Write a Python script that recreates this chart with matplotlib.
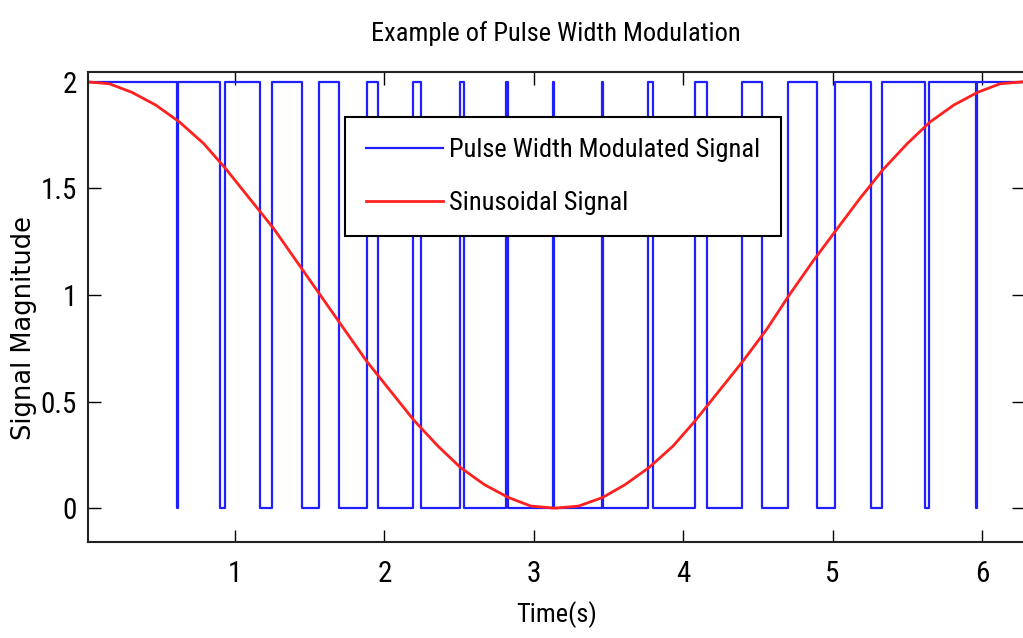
import matplotlib
matplotlib.use("Agg")
import matplotlib.pyplot as plt
from matplotlib import font_manager

# Instantes de conmutacion de la senal PWM
pwm_t = [0.0, 0.614, 0.617, 0.900, 0.933, 1.167, 1.246, 1.446, 1.564,
         1.696, 1.882, 1.959, 2.189, 2.245, 2.506, 2.533, 2.816, 2.824,
         3.130, 3.137, 3.456, 3.466, 3.766, 3.800, 4.079, 4.157, 4.392,
         4.525, 4.703, 4.894, 5.016, 5.254, 5.331, 5.618, 5.645, 5.960,
         5.967, 6.283]
pwm_v = [2, 0, 2, 0, 2, 0, 2, 0, 2,
         0, 2, 0, 2, 0, 2, 0, 2, 0,
         2, 0, 2, 0, 2, 0, 2, 0, 2,
         0, 2, 0, 2, 0, 2, 0, 2, 0,
         2, 2]

# Senal sinusoidal muestreada
sin_t = [0.00, 0.16, 0.31, 0.47, 0.63, 0.79, 0.94, 1.10, 1.26, 1.41,
         1.57, 1.73, 1.88, 2.04, 2.20, 2.36, 2.51, 2.67, 2.83, 2.98,
         3.14, 3.30, 3.46, 3.61, 3.77, 3.93, 4.08, 4.24, 4.40, 4.56,
         4.71, 4.87, 5.03, 5.18, 5.34, 5.50, 5.65, 5.81, 5.97, 6.12, 6.28]
sin_v = [2.00, 1.99, 1.95, 1.89, 1.81, 1.71, 1.59, 1.45, 1.31, 1.16,
         1.00, 0.84, 0.69, 0.55, 0.41, 0.29, 0.19, 0.11, 0.05, 0.01,
         0.00, 0.01, 0.05, 0.11, 0.19, 0.29, 0.41, 0.55, 0.69, 0.84,
         1.00, 1.16, 1.31, 1.45, 1.59, 1.71, 1.81, 1.89, 1.95, 1.99, 2.00]

x_ticks = [1, 2, 3, 4, 5, 6]
y_ticks = [0, 0.5, 1, 1.5, 2]
y_tick_labels = ["0", "0.5", "1", "1.5", "2"]

available = {f.name for f in font_manager.fontManager.ttflist}
narrow = "DejaVu Sans"
for cand in ["Liberation Sans Narrow", "DejaVu Sans Condensed", "Roboto Condensed"]:
    if cand in available:
        narrow = cand
        break

fig = plt.figure(figsize=(10.23, 6.38), dpi=100)
ax = fig.add_axes([0.0863, 0.151, 0.915, 0.7367])

ax.step(pwm_t, pwm_v, where="post", color="#2020ff", linewidth=1.6,
        label="Pulse Width Modulated Signal")
ax.plot(sin_t, sin_v, color="#ff2020", linewidth=2.0, label="Sinusoidal Signal")

ax.set_xlim(0.018, 6.283)
ax.set_ylim(-0.157, 2.047)
ax.set_xticks(x_ticks)
ax.set_yticks(y_ticks)
ax.set_yticklabels(y_tick_labels)
ax.tick_params(direction="in", length=9, width=1, top=True, right=True,
               labelsize=21)
ax.tick_params(axis="x", pad=13)
ax.tick_params(axis="y", pad=8)
for lab in ax.get_xticklabels() + ax.get_yticklabels():
    lab.set_family(narrow)
for sp in ax.spines.values():
    sp.set_linewidth(1.5)
    sp.set_color("#222222")

ax.set_title("Example of Pulse Width Modulation", family=narrow, fontsize=19, pad=22)
ax.set_xlabel("Time(s)", family=narrow, fontsize=19, labelpad=10)
ax.set_ylabel("Signal Magnitude", family="DejaVu Sans", fontsize=18.5)
ax.yaxis.set_label_coords(-0.055, 0.455)

leg = ax.legend(loc="upper left", bbox_to_anchor=(345 / 1023, 1 - 117 / 638),
                bbox_transform=fig.transFigure, fancybox=False, framealpha=1,
                edgecolor="black", handlelength=2.9, handletextpad=0.25,
                borderpad=0.8, labelspacing=1.1, borderaxespad=0,
                prop={"family": narrow, "size": 19})
leg.get_frame().set_linewidth(1.5)

fig.savefig("out.png", dpi=100)
